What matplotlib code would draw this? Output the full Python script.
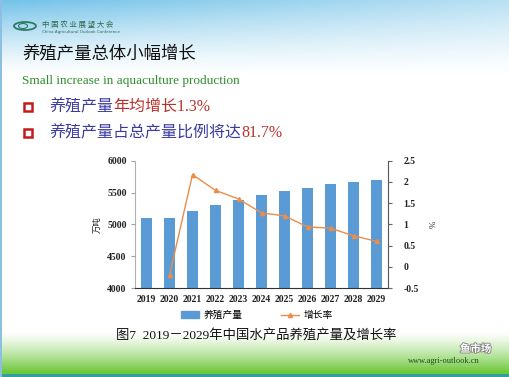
import matplotlib
matplotlib.use('Agg')
import numpy as np
import matplotlib.pyplot as plt
import matplotlib.patheffects as pe
from matplotlib.patches import Rectangle, Ellipse
from matplotlib.lines import Line2D

# --- data ---
years = ['2019', '2020', '2021', '2022', '2023', '2024', '2025', '2026', '2027', '2028', '2029']
output = [5105, 5100, 5212, 5305, 5388, 5460, 5528, 5576, 5633, 5670, 5700]   # 万吨
growth_years = years[1:]
growth = [-0.2, 2.17, 1.8, 1.6, 1.27, 1.2, 0.94, 0.91, 0.73, 0.6]           # %

left_ticks = [4000, 4500, 5000, 5500, 6000]
right_ticks = [-0.5, 0, 0.5, 1, 1.5, 2, 2.5]
right_ticklabels = ['-0.5', '0', '0.5', '1', '1.5', '2', '2.5']

W, H = 509, 377
CJK = ['Noto Sans CJK SC', 'DejaVu Sans']
SERIF_CJK = ['Liberation Serif', 'Noto Sans CJK SC']

fig = plt.figure(figsize=(W / 100, H / 100), dpi=100)

def fx(px):
    return px / W

def fy(py):
    return 1 - py / H

# --- slide background ---
bg = fig.add_axes([0, 0, 1, 1])
bg.set_axis_off()
yy = np.linspace(0, 1, H)[:, None]
xx = np.linspace(0, 1, W)[None, :]
img = np.ones((H, W, 3))
# sky at top
sky_w = np.clip(1 - yy / 0.2, 0, 1) ** 1.3 * (1 - 0.5 * xx)
sky = np.array([0.45, 0.76, 0.91])
img = img * (1 - sky_w[..., None]) + sky * sky_w[..., None]
# green at bottom
g_w = np.clip((yy - 0.88) / 0.11, 0, 1) ** 1.3 * np.ones_like(xx)
green = np.array([0.42, 0.78, 0.22])
img = img * (1 - g_w[..., None]) + green * g_w[..., None]
img[-3:, :, :] = [0.20, 0.62, 0.62]
img[:, :2, :] = [0.55, 0.75, 0.88]
bg.imshow(img, extent=[0, 1, 0, 1], aspect='auto', zorder=0)
bg.set_xlim(0, 1)
bg.set_ylim(0, 1)

# logo
bg.add_patch(Ellipse((fx(25), fy(26)), fx(22), 8 / H, fill=False, edgecolor='#2d7a6a', lw=1.3))
bg.add_patch(Ellipse((fx(23), fy(26)), fx(9), 5 / H, fill=False, edgecolor='#2d7a6a', lw=0.8))
fig.text(fx(42), fy(24.5), '中 国 农 业 展 望 大 会', family=CJK, fontsize=5.4, color='#2d6a4a', va='center')
fig.text(fx(42), fy(32.5), 'China Agricultural Outlook Conference', family='DejaVu Sans',
         fontsize=2.9, color='#2d6a4a', va='center')

# headings
fig.text(fx(22), fy(53), '养殖产量总体小幅增长', family=CJK, fontsize=12.5, color='#111111', va='center')
fig.text(fx(22), fy(81), 'Small increase in aquaculture production', family='Liberation Serif',
         fontsize=9.5, color='#2f8f2f', va='center')

renderer = fig.canvas.get_renderer()

def seg_text(x, y, parts, size):
    for s, c in parts:
        t = fig.text(x, y, s, color=c, fontsize=size, family=SERIF_CJK, va='center', ha='left')
        bb = t.get_window_extent(renderer=renderer)
        x = bb.x1 / fig.bbox.width

blue_txt = '#3b3b9e'
red_txt = '#b8322c'
for py, parts in [(107, [('养殖产量', blue_txt), ('年均增长1.3%', red_txt)]),
                  (133, [('养殖产量占总产量比例将达', blue_txt), ('81.7%', red_txt)])]:
    bg.add_patch(Rectangle((fx(24), fy(py + 4)), fx(8), 8 / H, fill=True, facecolor='white',
                           edgecolor='#c41a1a', lw=1.8, zorder=3))
    seg_text(fx(49), fy(py), parts, 11.5)

# --- chart ---
ax = fig.add_axes([fx(135), fy(288), fx(388) - fx(135), fy(160.7) - fy(288)])
ax.patch.set_alpha(0)
x = np.arange(len(years))
ax.bar(x, output, width=0.5, color='#5b9bd5', zorder=2)
ax.set_ylim(4000, 6000)
ax.set_xlim(-0.5, len(years) - 0.5)
ax.set_yticks(left_ticks)
ax.set_xticks(x)
ax.set_xticklabels(years)
ax.tick_params(axis='x', length=0, pad=5)
ax.tick_params(axis='y', length=3, color='#a0a0a0', pad=3)
for lab in ax.get_xticklabels() + ax.get_yticklabels():
    lab.set_fontfamily('Liberation Serif')
    lab.set_fontweight('bold')
    lab.set_fontsize(7)
    lab.set_color('#222222')
ax.spines['top'].set_visible(False)
ax.spines['right'].set_visible(False)
ax.spines['left'].set_color('#b0b0b0')
ax.spines['bottom'].set_color('#333333')
ax.set_ylabel('万吨', family=CJK, fontsize=6, labelpad=4, color='#222222')

ax2 = ax.twinx()
ax2.plot(np.arange(1, len(years)), growth, color='#ea8d4a', lw=1, marker='^', ms=3,
         markerfacecolor='#ea8d4a', markeredgecolor='#ea8d4a', zorder=3)
ax2.set_ylim(-0.5, 2.5)
ax2.set_yticks(right_ticks)
ax2.set_yticklabels(right_ticklabels)
ax2.tick_params(axis='y', length=3, color='#666666', pad=8)
for lab in ax2.get_yticklabels():
    lab.set_fontfamily('Liberation Serif')
    lab.set_fontweight('bold')
    lab.set_fontsize(7)
    lab.set_color('#222222')
for s in ['top', 'left', 'bottom']:
    ax2.spines[s].set_visible(False)
ax2.spines['right'].set_color('#555555')
ax2.set_ylabel('%', family='Liberation Serif', fontsize=6.5, labelpad=8, color='#222222')

handles = [Rectangle((0, 0), 1, 1, color='#5b9bd5'),
           Line2D([0], [0], color='#ea8d4a', lw=1, marker='^', ms=3)]
fig.legend(handles, ['养殖产量', '增长率'], loc='center', bbox_to_anchor=(fx(257), fy(315)),
           ncol=2, frameon=False, prop={'family': CJK, 'size': 7}, columnspacing=4,
           handlelength=1.8, handletextpad=0.5)

fig.text(fx(256), fy(336), '图7  2019－2029年中国水产品养殖产量及增长率', family=SERIF_CJK,
         fontsize=9.6, color='#111111', ha='center', va='center')

# footer
fig.text(fx(408), fy(361), 'www.agri-outlook.cn', family='Liberation Serif', fontsize=6,
         color='#1e4a1e', va='center')
fig.text(fx(460), fy(349), '鱼市场', family=CJK, fontsize=7.5, color='white', va='center', ha='left',
         fontweight='bold', path_effects=[pe.withStroke(linewidth=1.2, foreground='#808080')])

fig.savefig('out.png', dpi=100)
